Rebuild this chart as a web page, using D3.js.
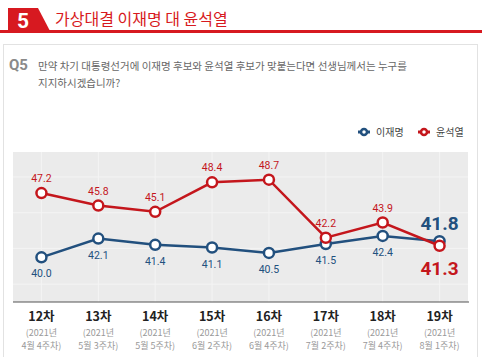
<!DOCTYPE html>
<html><head><meta charset="utf-8">
<script src="https://cdn.jsdelivr.net/npm/d3@7"></script>
<style>
body{margin:0;background:#fff;}
svg{display:block;font-family:"Noto Sans CJK KR","Noto Sans",sans-serif;}
</style></head>
<body>
<svg id="chart" width="482" height="357"></svg>
<script>
const rounds = ["12차","13차","14차","15차","16차","17차","18차","19차"];
const periodLine1 = ["(2021년","(2021년","(2021년","(2021년","(2021년","(2021년","(2021년","(2021년"];
const periodLine2 = ["4월 4주차)","5월 3주차)","5월 5주차)","6월 2주차)","6월 4주차)","7월 2주차)","7월 4주차)","8월 1주차)"];
const leeValues = [40.0, 42.1, 41.4, 41.1, 40.5, 41.5, 42.4, 41.8];
const yoonValues = [47.2, 45.8, 45.1, 48.4, 48.7, 42.2, 43.9, 41.3];
const seriesNames = ["이재명","윤석열"];
const gridValues = [37, 41, 45, 49];

const RED = "#c4161c", BLUE = "#22507e";
const svg = d3.select("#chart");

// header
svg.append("rect").attr("x",0).attr("y",30).attr("width",482).attr("height",3).attr("fill","#d71920");
svg.append("path").attr("d","M8,8 L38,8 L50,31 L8,31 Z").attr("fill","#d71920");
svg.append("text").attr("x",23).attr("y",28).attr("text-anchor","middle").attr("fill","#fff")
  .attr("font-size",21).attr("font-weight","bold").attr("font-family","Roboto, Arial, sans-serif").text("5");
svg.append("text").attr("x",55).attr("y",25).attr("fill","#d71920").attr("font-size",16).text("가상대결 이재명 대 윤석열");

// panel
svg.append("rect").attr("x",3.5).attr("y",44.5).attr("width",474).attr("height",320).attr("fill","#fff").attr("stroke","#e2e2e2");
svg.append("text").attr("x",9).attr("y",70).attr("fill","#8a8a8a").attr("font-size",15).attr("font-weight","bold")
  .attr("font-family","Roboto, Arial, sans-serif").text("Q5");
svg.append("text").attr("x",38).attr("y",70).attr("fill","#666").attr("font-size",10.5)
  .text("만약 차기 대통령선거에 이재명 후보와 윤석열 후보가 맞붙는다면 선생님께서는 누구를");
svg.append("text").attr("x",38).attr("y",87).attr("fill","#666").attr("font-size",10.5).text("지지하시겠습니까?");

// scales
const x = d3.scaleBand().domain(rounds).range([13,468]).padding(0);
const cx = d => x(d) + x.bandwidth()/2;
const y = d3.scaleLinear().domain([35, 51.8]).range([302,152]);

// plot bg
const g = svg.append("g");
g.append("rect").attr("x",13).attr("y",152).attr("width",455).attr("height",150).attr("fill","#ebebeb");
g.selectAll(".vg").data(rounds).join("line").attr("x1",cx).attr("x2",cx).attr("y1",152).attr("y2",302)
  .attr("stroke","#f4f4f4").attr("stroke-width",1);
g.selectAll(".hg").data(gridValues).join("line").attr("x1",13).attr("x2",468).attr("y1",d=>y(d)).attr("y2",d=>y(d))
  .attr("stroke","#f4f4f4").attr("stroke-width",1);

// axis
const axis = d3.axisBottom(x).tickSize(0).tickFormat("");
const ax = svg.append("g").attr("transform","translate(0,302)").call(axis);
ax.select(".domain").attr("stroke","#555").attr("stroke-width",1.2).attr("d","M13,0H469");

// category labels
const lab = svg.append("g");
rounds.forEach((r,i)=>{
  const xx = cx(r);
  lab.append("text").attr("x",xx).attr("y",321).attr("text-anchor","middle").attr("font-size",12.5).attr("font-weight","bold").attr("fill","#222").text(r);
  lab.append("text").attr("x",xx).attr("y",335.5).attr("text-anchor","middle").attr("font-size",9).attr("fill","#999").text(periodLine1[i]);
  lab.append("text").attr("x",xx).attr("y",349).attr("text-anchor","middle").attr("font-size",9).attr("fill","#999").text(periodLine2[i]);
});

// lines
const line = d3.line().x((d,i)=>cx(rounds[i])).y(d=>y(d));
function drawSeries(vals,color){
  svg.append("path").datum(vals).attr("d",line).attr("fill","none").attr("stroke",color).attr("stroke-width",2.5);
  svg.append("g").selectAll("circle").data(vals).join("circle")
    .attr("cx",(d,i)=>cx(rounds[i])).attr("cy",d=>y(d)).attr("r",5)
    .attr("fill","#fff").attr("stroke",color).attr("stroke-width",2.5);
}
drawSeries(leeValues, BLUE);
drawSeries(yoonValues, RED);

// value labels
const last = rounds.length-1;
svg.append("g").selectAll("text").data(yoonValues).join("text")
  .attr("x",(d,i)=>cx(rounds[i])).attr("y",(d,i)=>i===last? y(d)+29 : y(d)-11)
  .attr("text-anchor","middle").attr("fill",RED)
  .attr("font-size",(d,i)=>i===last?19:10.5).attr("font-weight",(d,i)=>i===last?"bold":"normal")
  .attr("font-family","Roboto, Arial, sans-serif")
  .text(d=>d.toFixed(1));
svg.append("g").selectAll("text").data(leeValues).join("text")
  .attr("x",(d,i)=>cx(rounds[i])).attr("y",(d,i)=>i===last? y(d)-11 : y(d)+20)
  .attr("text-anchor","middle").attr("fill",BLUE)
  .attr("font-size",(d,i)=>i===last?19:10.5).attr("font-weight",(d,i)=>i===last?"bold":"normal")
  .attr("font-family","Roboto, Arial, sans-serif")
  .text(d=>d.toFixed(1));

// legend
const legend = svg.append("g");
[[BLUE,358,376],[RED,418,436]].forEach((c,i)=>{
  legend.append("line").attr("x1",c[1]).attr("x2",c[1]+12).attr("y1",132).attr("y2",132).attr("stroke",c[0]).attr("stroke-width",3);
  legend.append("circle").attr("cx",c[1]+6).attr("cy",132).attr("r",3).attr("fill","#fff").attr("stroke",c[0]).attr("stroke-width",2.5);
  legend.append("text").attr("x",c[2]).attr("y",136).attr("font-size",10).attr("fill","#444").text(seriesNames[i]);
});
</script>
</body></html>
